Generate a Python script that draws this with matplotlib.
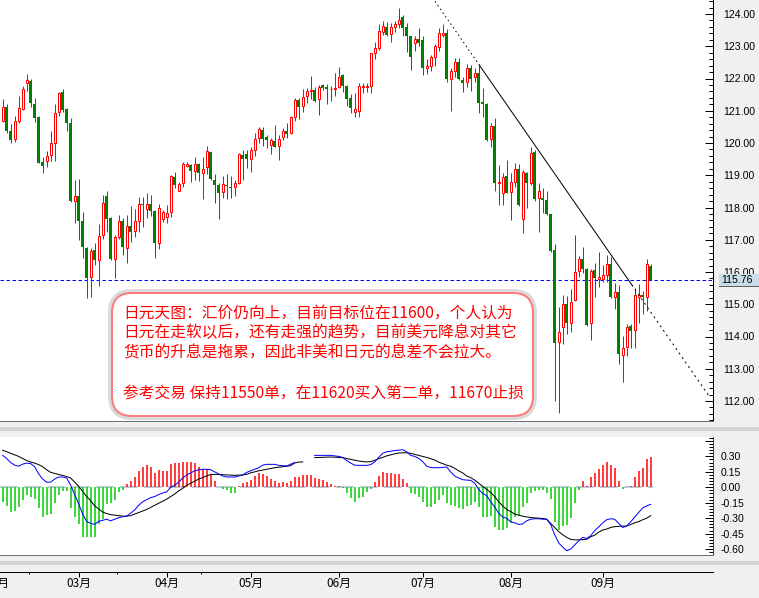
import numpy as np
import matplotlib
matplotlib.use("Agg")
import matplotlib.pyplot as plt
from matplotlib import transforms
from matplotlib.patches import Rectangle, FancyBboxPatch
from matplotlib.lines import Line2D
from matplotlib.ticker import MultipleLocator, FixedLocator, FuncFormatter

nan = float("nan")

# ---------------- daily USD/JPY candles ----------------
opens = [120.69,121.11,120.37,120.13,120.69,121.04,121.85,121.92,121.21,120.82,
         119.41,119.45,119.62,120.01,120.97,121.58,121.06,120.61,118.21,118.36,
         117.58,116.73,115.86,116.68,116.37,117.15,118.36,117.66,116.39,117.08,
         117.58,116.73,117.43,117.28,117.59,118.11,117.94,118.11,117.90,116.89,
         117.63,117.70,117.85,118.96,118.52,118.75,119.30,119.33,119.14,119.35,
         119.08,119.27,119.71,118.85,118.70,118.47,118.70,118.65,118.63,118.75,
         119.63,119.66,119.51,119.78,120.14,120.40,120.18,119.94,120.07,119.91,
         120.20,120.37,120.30,120.80,121.33,121.15,121.46,121.62,121.64,121.35,
         121.79,121.73,121.66,121.68,121.73,122.11,121.77,121.38,120.97,121.00,
         121.75,121.75,121.77,122.78,122.94,123.45,123.61,123.38,123.61,123.69,
         123.90,123.59,123.32,123.09,123.21,123.19,122.32,122.39,122.68,122.99,
         123.36,123.40,122.00,122.24,122.52,121.95,121.90,122.32,122.04,122.18,
         121.26,121.21,120.11,120.53,118.77,118.44,118.98,118.49,118.80,119.18,
         117.63,119.08,118.75,119.73,118.28,118.31,118.23,117.80,116.68,113.84,
         114.28,115.01,114.43,115.13,116.04,116.39,116.08,114.41,116.06,115.77,
         115.77,115.91,116.25,115.23,115.38,113.43,113.68,114.33,114.20,115.23,
         115.29,115.23,116.19]
highs = [121.36,121.21,120.59,120.84,121.45,121.77,122.14,121.99,121.39,120.85,
         119.58,119.74,120.37,121.21,121.59,121.67,121.10,120.77,118.85,118.88,
         117.86,116.79,116.73,116.89,117.49,118.39,118.51,117.70,117.15,117.77,
         117.66,117.77,118.05,117.95,118.34,118.34,118.46,118.39,117.92,118.11,
         117.92,118.08,119.01,119.11,118.79,119.41,119.40,119.35,119.58,119.37,
         119.58,119.90,119.73,119.04,118.77,118.98,119.04,118.98,118.85,119.70,
         119.78,119.78,119.89,120.30,120.51,120.51,120.25,120.14,120.56,120.25,
         120.46,120.61,120.84,121.38,121.41,121.66,121.69,122.08,121.73,121.80,
         121.83,121.83,121.77,122.16,122.37,122.14,121.80,121.52,121.56,121.85,
         121.85,121.87,122.80,123.14,123.69,123.79,123.76,123.71,123.79,124.18,
         123.97,123.71,123.32,123.32,123.56,123.32,122.59,122.73,123.07,123.56,
         123.69,123.52,122.32,122.63,122.63,122.04,122.45,122.42,122.32,122.45,
         121.69,121.23,120.63,120.76,119.32,119.06,119.47,119.06,119.37,119.35,
         119.16,119.11,119.87,119.78,118.77,118.59,118.52,117.80,116.87,114.92,
         115.29,115.26,115.46,117.15,116.50,116.76,116.11,116.08,116.29,116.63,
         116.22,116.53,116.47,115.65,115.60,114.02,114.39,114.39,115.49,115.63,
         115.42,116.39,116.25]
lows = [120.66,120.32,120.01,120.04,120.63,121.02,121.62,121.13,120.66,119.37,
        119.06,119.27,119.45,119.45,120.85,120.97,120.38,118.18,117.51,116.99,
        116.44,115.18,115.23,116.22,115.58,117.01,117.25,116.37,115.80,117.01,
        116.53,116.29,116.94,117.08,117.25,117.41,117.66,117.74,116.42,116.70,
        117.56,117.53,117.72,118.59,118.50,118.65,119.25,118.80,118.85,118.82,
        118.25,119.04,118.85,118.13,117.63,118.28,118.25,118.28,118.36,118.73,
        118.85,119.23,119.11,119.60,120.01,119.91,119.83,119.66,119.87,119.47,
        120.09,120.14,120.28,120.69,120.73,120.97,121.25,121.35,121.28,120.87,
        121.64,121.21,121.31,121.46,121.69,121.59,121.15,120.92,120.82,120.80,
        121.56,121.59,121.54,122.59,122.88,123.35,123.32,123.14,123.45,123.56,
        123.32,122.83,122.26,122.86,123.01,122.11,122.14,122.24,122.39,122.86,
        123.28,121.90,121.00,122.06,121.95,121.59,121.73,121.62,121.90,120.92,
        120.82,120.07,119.87,118.52,118.08,118.08,118.44,117.61,118.65,118.04,
        117.20,118.00,118.70,118.21,117.25,117.82,117.77,116.63,112.01,111.62,
        113.78,114.08,114.15,115.11,115.83,115.96,114.33,113.89,115.23,115.54,
        115.70,115.70,115.18,114.84,113.15,112.60,113.39,113.63,113.63,114.41,
        114.70,114.80,115.75]
closes = [121.11,120.37,120.09,120.68,121.08,121.66,121.95,121.23,120.76,119.39,
          119.29,119.60,119.99,120.92,121.54,121.02,120.61,118.21,118.36,117.59,
          116.76,115.80,116.65,116.37,117.12,118.13,117.63,116.39,117.08,117.58,
          116.79,117.43,117.25,117.58,118.11,118.07,118.11,117.90,116.89,117.97,
          117.85,117.82,118.98,118.69,118.73,119.35,119.34,119.13,119.35,119.07,
          119.18,119.75,118.87,118.69,118.44,118.73,118.67,118.59,118.75,119.66,
          119.49,119.49,119.78,120.11,120.42,120.11,120.09,120.09,119.88,120.11,
          120.37,120.27,120.82,121.33,121.11,121.44,121.61,121.64,121.31,121.73,
          121.69,121.67,121.68,121.70,122.04,121.77,121.35,121.08,121.04,121.77,
          121.77,121.77,122.78,122.94,123.48,123.63,123.35,123.59,123.69,123.81,
          123.56,123.32,122.66,123.21,123.11,122.32,122.39,122.66,123.01,123.40,
          123.42,121.97,122.24,122.52,121.97,121.87,122.32,122.00,122.18,121.23,
          121.20,120.09,120.53,118.77,118.80,118.96,118.46,118.80,119.18,118.08,
          119.11,118.77,119.68,118.25,118.52,118.23,117.80,116.66,113.81,114.15,
          115.01,114.41,115.08,116.01,116.39,116.08,114.36,116.04,115.80,115.83,
          115.91,116.25,115.21,115.38,113.46,113.63,114.30,114.18,115.29,115.29,
          115.21,116.25,115.76]

# ---------------- MACD (DIF, DEA, histogram) ----------------
dif = [0.31,0.28,0.24,0.215,0.205,0.225,0.235,0.23,0.20,0.13,
       0.08,0.05,0.05,0.08,0.10,0.10,0.09,0.02,-0.07,-0.16,
       -0.26,-0.33,-0.35,-0.36,-0.33,-0.32,-0.31,-0.325,-0.31,-0.295,
       -0.285,-0.28,-0.25,-0.22,-0.175,-0.14,-0.12,-0.10,-0.09,-0.07,
       -0.055,-0.045,0.0,0.02,0.05,0.09,0.12,0.14,0.16,0.17,
       0.175,0.175,0.17,0.15,0.13,0.11,0.10,0.10,0.10,0.11,
       0.12,0.145,0.16,0.175,0.19,0.215,0.223,0.223,0.223,0.213,
       0.21,0.207,0.225,0.24,nan,nan,nan,nan,0.31,0.31,
       0.31,0.31,0.31,0.305,0.30,0.29,0.26,0.235,0.215,0.213,
       0.213,0.213,0.22,0.246,0.29,0.33,0.345,0.35,0.357,0.36,
       0.365,0.345,0.31,0.30,0.28,0.25,0.205,0.192,0.19,0.19,
       0.193,0.197,0.15,0.11,0.09,0.074,0.07,0.068,0.04,-0.02,
       -0.06,-0.08,-0.14,-0.19,-0.25,-0.29,-0.30,-0.335,-0.345,-0.36,
       -0.355,-0.325,-0.31,-0.305,-0.305,-0.31,-0.31,-0.36,-0.46,-0.54,
       -0.58,-0.615,-0.60,-0.56,-0.52,-0.486,-0.496,-0.47,-0.42,-0.385,
       -0.345,-0.315,-0.305,-0.31,-0.35,-0.39,-0.376,-0.335,-0.29,-0.245,
       -0.20,-0.18,-0.165]
dea = [0.36,0.345,0.33,0.315,0.30,0.28,0.26,0.245,0.235,0.22,
       0.20,0.17,0.145,0.135,0.125,0.115,0.105,0.09,0.05,0.01,
       -0.04,-0.09,-0.13,-0.18,-0.21,-0.24,-0.255,-0.265,-0.27,-0.275,
       -0.28,-0.28,-0.275,-0.26,-0.245,-0.23,-0.215,-0.195,-0.175,-0.155,
       -0.135,-0.115,-0.09,-0.065,-0.035,-0.01,0.02,0.04,0.06,0.08,
       0.095,0.11,0.125,0.125,0.125,0.122,0.12,0.118,0.116,0.118,
       0.12,0.126,0.14,0.15,0.16,0.167,0.174,0.182,0.19,0.195,
       0.20,0.205,0.21,0.236,0.245,0.246,nan,nan,0.288,0.29,
       0.292,0.293,0.294,0.292,0.29,0.288,0.28,0.272,0.265,0.255,
       0.25,0.246,0.25,0.262,0.278,0.29,0.305,0.315,0.325,0.333,
       0.335,0.335,0.33,0.32,0.31,0.30,0.29,0.278,0.265,0.245,
       0.23,0.215,0.204,0.185,0.16,0.14,0.11,0.094,0.07,0.04,
       0.01,-0.02,-0.05,-0.09,-0.14,-0.18,-0.215,-0.235,-0.26,-0.27,
       -0.28,-0.288,-0.293,-0.297,-0.30,-0.302,-0.31,-0.35,-0.39,-0.43,
       -0.46,-0.486,-0.505,-0.51,-0.51,-0.508,-0.505,-0.48,-0.465,-0.435,
       -0.415,-0.405,-0.39,-0.382,-0.379,-0.378,-0.376,-0.36,-0.345,-0.333,
       -0.315,-0.30,-0.275]
hist = [-0.14,-0.18,-0.24,-0.23,-0.19,-0.12,-0.07,-0.09,-0.11,-0.20,
        -0.29,-0.27,-0.26,-0.15,-0.07,-0.04,-0.04,-0.20,-0.29,-0.36,
        -0.48,-0.48,-0.48,-0.48,-0.36,-0.31,-0.16,-0.15,-0.12,-0.05,
        -0.03,0.035,0.06,0.10,0.16,0.20,0.22,0.20,0.14,0.165,
        0.16,0.16,0.23,0.24,0.24,0.245,0.245,0.245,0.236,0.20,
        0.18,0.18,0.116,0.06,0.0,-0.013,-0.03,-0.055,-0.055,0.01,
        0.04,0.05,0.07,0.106,0.14,0.13,0.106,0.08,0.06,0.04,
        0.05,0.04,0.06,0.10,0.10,0.12,0.12,0.116,0.09,0.08,
        0.07,0.05,0.035,0.015,0.01,-0.01,-0.055,-0.10,-0.14,-0.10,
        -0.094,-0.046,-0.013,0.051,0.106,0.149,0.139,0.139,0.132,0.126,
        0.077,0.042,-0.055,-0.068,-0.094,-0.143,-0.191,-0.191,-0.159,-0.12,
        -0.078,-0.152,-0.175,-0.182,-0.201,-0.207,-0.185,-0.175,-0.143,-0.191,
        -0.288,-0.288,-0.282,-0.385,-0.411,-0.411,-0.392,-0.347,-0.288,-0.282,
        -0.191,-0.149,-0.055,-0.04,-0.03,-0.026,-0.052,-0.117,-0.333,-0.41,
        -0.38,-0.366,-0.295,-0.149,-0.026,0.064,0.013,0.10,0.14,0.18,
        0.217,0.25,0.217,0.19,0.06,-0.013,0.0,0.013,0.10,0.16,
        0.19,0.27,0.29]

# month labels and the bar index where each month starts
month_labels = ["02月", "03月", "04月", "05月", "06月", "07月", "08月", "09月"]
month_starts = [-1.5, 19, 41, 62, 84, 105, 127, 150]
minor_date_ticks = [6.7, 28.7, 49.7]

# down-trend line anchors (bar index, price)
trend_anchor_x = [119.3, 157.3]
trend_anchor_y = [122.39, 115.60]
trend_span = (108.1, 176.8)

note_lines = [
    "日元天图：汇价仍向上，目前目标位在11600，个人认为",
    "日元在走软以后，还有走强的趋势，目前美元降息对其它",
    "货币的升息是拖累，因此非美和日元的息差不会拉大。",
    "",
    "参考交易 保持11550单，在11620买入第二单，11670止损",
]

# ---------------- styling ----------------
W, H = 759, 598
PX = 72.0 / 100.0  # one pixel in points
RED = "#FF0000"
GREEN = "#008000"
HGREEN = "#00C800"
BG = "#F0F0F0"
CJK = ["Noto Sans CJK SC", "DejaVu Sans"]
TICKFONT = "Liberation Sans"

fig = plt.figure(figsize=(W / 100, H / 100), dpi=100, facecolor=BG)

# pixel transform: (x from left, y from top) in image pixels
pix = transforms.Affine2D().scale(1 / W, -1 / H).translate(0, 1) + fig.transFigure

# separator bands
for y0 in (427, 561):
    fig.add_artist(Rectangle((0, y0), W, 4, transform=pix, facecolor="#D4D4D4",
                             edgecolor="none", zorder=0))

x_right = 713
xmin = -0.667
xmax = (x_right - 2.67) / 4.0

o = np.array(opens); h = np.array(highs); l = np.array(lows); c = np.array(closes)
idx = np.arange(len(c))
up = c >= o

# ---------------- price panel ----------------
ax = fig.add_axes([0, 1 - 421 / H, x_right / W, 421 / H])
ax.set_facecolor("white")
ax.set_xlim(xmin, xmax)
ax.set_ylim(124 - 407 / 32.25, 124 + 14 / 32.25)

ax.vlines(idx[up], c[up], h[up], color=RED, lw=PX, zorder=3)
ax.vlines(idx[up], l[up], o[up], color=RED, lw=PX, zorder=3)
ax.vlines(idx[~up], l[~up], h[~up], color=GREEN, lw=PX, zorder=3)
ax.bar(idx[up], np.maximum(c[up] - o[up], 0.005), bottom=o[up], width=0.5,
       facecolor="white", edgecolor=RED, linewidth=PX, zorder=4)
ax.bar(idx[~up], np.maximum(o[~up] - c[~up], 0.03), bottom=c[~up], width=0.75,
       facecolor=GREEN, edgecolor="none", linewidth=0, zorder=4)

last = closes[-1]
ax.axhline(last, color="#0000FF", lw=PX, linestyle=(0, (3.5, 2.5)), zorder=2)

# trend line: dotted - solid - dotted
slope = (trend_anchor_y[1] - trend_anchor_y[0]) / (trend_anchor_x[1] - trend_anchor_x[0])
def trend(x):
    return trend_anchor_y[0] + slope * (np.asarray(x) - trend_anchor_x[0])
seg_a = np.array([trend_span[0], trend_anchor_x[0]])
seg_b = np.array(trend_anchor_x)
seg_c = np.array([trend_anchor_x[1], trend_span[1]])
ax.plot(seg_a, trend(seg_a), color="black", lw=PX, linestyle=(0, (1.5, 3.0)), zorder=5)
ax.plot(seg_b, trend(seg_b), color="black", lw=PX, zorder=5)
ax.plot(seg_c, trend(seg_c), color="black", lw=PX, linestyle=(0, (2.0, 3.5)), zorder=5)

for s in ("top", "left"):
    ax.spines[s].set_visible(False)
ax.spines["right"].set_color("black")
ax.spines["right"].set_linewidth(PX)
ax.spines["bottom"].set_color("#707070")
ax.spines["bottom"].set_linewidth(PX)
ax.set_xticks([])
ax.yaxis.tick_right()
ax.yaxis.set_major_locator(FixedLocator(np.arange(112, 125, 1.0)))
ax.yaxis.set_minor_locator(MultipleLocator(0.2))
ax.yaxis.set_major_formatter(FuncFormatter(lambda v, p: f"{v:.2f}"))
ax.tick_params(axis="y", which="major", direction="in", length=8 * PX, width=PX,
               pad=10 * PX, labelsize=7.6, colors="black", right=True, left=False)
ax.tick_params(axis="y", which="minor", direction="in", length=4 * PX, width=PX,
               right=True, left=False)
for t in ax.get_yticklabels():
    t.set_fontfamily(TICKFONT)

# last-price tag on the axis
tag_tr = transforms.blended_transform_factory(fig.transFigure, ax.transData)
hh = 6 / 32.25
ax.add_patch(Rectangle((719 / W, last - hh), 40 / W, 2 * hh, transform=tag_tr,
                       facecolor="#C9DDE8", edgecolor="none", clip_on=False, zorder=20))
ax.add_line(Line2D([719 / W, 1.0], [last - hh, last - hh], transform=tag_tr,
                   color="#606060", lw=PX, clip_on=False, zorder=21))
ax.text(721.5 / W, last, f"{last:.2f}", transform=tag_tr, ha="left", va="center",
        fontsize=7.6, family=TICKFONT, color="black", clip_on=False, zorder=22)

# ---------------- MACD panel ----------------
axm = fig.add_axes([0, 1 - 555 / H, x_right / W, (555 - 437.3) / H])
axm.set_facecolor("white")
axm.set_xlim(xmin, xmax)
axm.set_ylim(-0.657, 0.4854)
hv = np.array(hist)
axm.hlines(0, xmin, idx[-1] + 0.5, color="#A8B8CC", lw=1.5 * PX,
           linestyle=(0, (11.8, 4.2)), zorder=1)
axm.vlines(idx, 0, hv, colors=[RED if v >= 0 else HGREEN for v in hv],
           lw=1.5 * PX, zorder=2)
axm.plot(idx, np.array(dea, dtype=float), color="black", lw=PX, zorder=3)
axm.plot(idx, np.array(dif, dtype=float), color="#0000FF", lw=PX, zorder=4)

for s in ("top", "left"):
    axm.spines[s].set_visible(False)
axm.spines["right"].set_color("#404040")
axm.spines["right"].set_linewidth(PX)
axm.spines["bottom"].set_color("#707070")
axm.spines["bottom"].set_linewidth(PX)
axm.set_xticks([])
axm.yaxis.tick_right()
macd_ticks = [-0.60, -0.45, -0.30, -0.15, 0.0, 0.15, 0.30, 0.45]
axm.yaxis.set_major_locator(FixedLocator(macd_ticks))
axm.yaxis.set_minor_locator(MultipleLocator(0.03))
axm.yaxis.set_major_formatter(FuncFormatter(
    lambda v, p: "" if v > 0.4 else f"{round(v, 2) + 0.0:.2f}"))
axm.tick_params(axis="y", which="major", direction="in", length=8 * PX, width=PX,
                pad=8 * PX, labelsize=7.6, colors="black", right=True, left=False)
axm.tick_params(axis="y", which="minor", direction="in", length=4 * PX, width=PX,
                right=True, left=False)
for t in axm.get_yticklabels():
    t.set_fontfamily(TICKFONT)

# ---------------- date axis ----------------
date_h = H - 572.3
axd = fig.add_axes([0, 0, x_right / W, date_h / H])
axd.set_facecolor("none")
axd.set_xlim(xmin, xmax)
axd.set_ylim(0, 1)
for s in ("left", "right", "bottom"):
    axd.spines[s].set_visible(False)
axd.spines["top"].set_color("black")
axd.spines["top"].set_linewidth(PX)
axd.set_yticks([])
axd.xaxis.set_major_locator(FixedLocator(month_starts))
axd.xaxis.set_minor_locator(FixedLocator(minor_date_ticks))
axd.tick_params(axis="x", which="major", direction="in", top=True, bottom=False,
                length=5 * PX, width=PX, labelbottom=False, labeltop=False)
axd.tick_params(axis="x", which="minor", direction="in", top=True, bottom=False,
                length=2.5 * PX, width=PX, labelbottom=False, labeltop=False)
for pos, lab in zip(month_starts, month_labels):
    axd.text(pos, (H - 583) / date_h, lab, ha="center", va="center",
             fontsize=8.5, family=CJK, color="black", clip_on=False)

# ---------------- commentary box ----------------
fig.add_artist(FancyBboxPatch((110, 291), 425, 127,
                              boxstyle="round,pad=0,rounding_size=22", transform=pix,
                              facecolor="none", edgecolor="#DADADA", lw=4 * PX, zorder=5))
fig.add_artist(FancyBboxPatch((112, 293), 421, 123,
                              boxstyle="round,pad=0,rounding_size=20", transform=pix,
                              facecolor="white", edgecolor="#FF7A7A", lw=2 * PX, zorder=6))
line_y = [312.7, 332.7, 353.3, 373.0, 392.7]
for yy, txt in zip(line_y, note_lines):
    if txt:
        fig.text(123.3, yy, txt, transform=pix, ha="left", va="center",
                 fontsize=11.3, family=CJK, color=RED, zorder=7)

fig.savefig("out.png", dpi=100, facecolor=BG)
